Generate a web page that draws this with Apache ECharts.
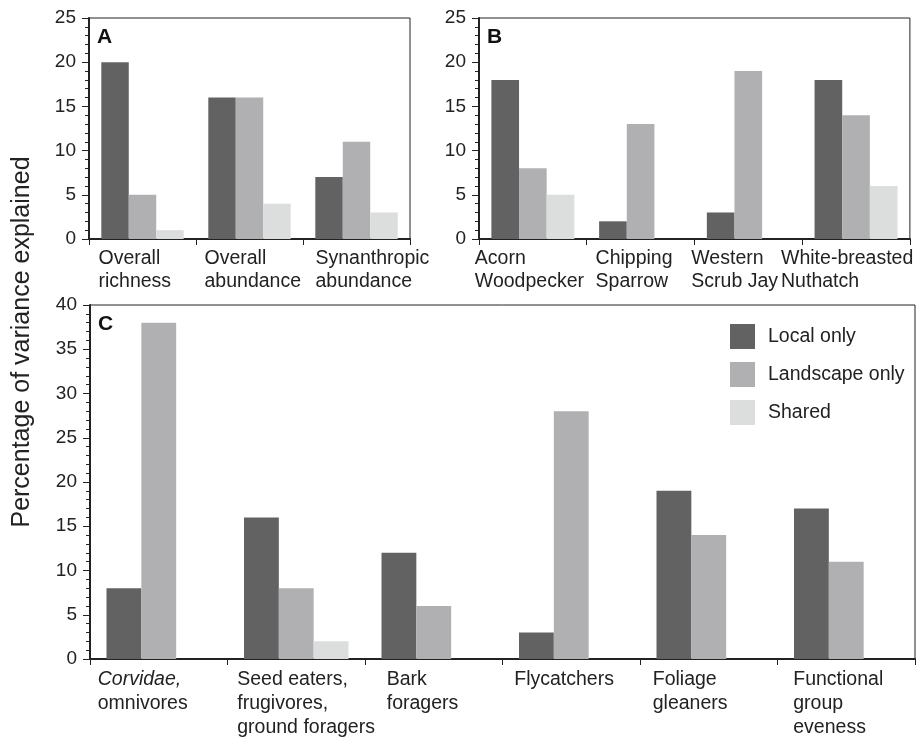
<!DOCTYPE html>
<html>
<head>
<meta charset="utf-8">
<script src="https://cdn.jsdelivr.net/npm/echarts@6/dist/echarts.min.js"></script>
<style>html,body{margin:0;padding:0;background:#fff}#c{width:916px;height:740px}</style>
</head>
<body>
<div id="c"></div>
<script>
// ---- Data ----
const seriesNames = ['Local only', 'Landscape only', 'Shared'];

const catsA = ['Overall\nrichness', 'Overall\nabundance', 'Synanthropic\nabundance'];
const localA = [20, 16, 7];
const landA = [5, 16, 11];
const sharedA = [1, 4, 3];

const catsB = ['Acorn\nWoodpecker', 'Chipping\nSparrow', 'Western\nScrub Jay', 'White-breasted\nNuthatch'];
const localB = [18, 2, 3, 18];
const landB = [8, 13, 19, 14];
const sharedB = [5, 0, 0, 6];

const catsC = ['Corvidae,\nomnivores', 'Seed eaters,\nfrugivores,\nground foragers', 'Bark\nforagers', 'Flycatchers', 'Foliage\ngleaners', 'Functional\ngroup\neveness'];
const localC = [8, 16, 12, 3, 19, 17];
const landC = [38, 8, 6, 28, 14, 11];
const sharedC = [0, 2, 0, 0, 0, 0];

const yTicksAB = [0, 5, 10, 15, 20, 25];
const yTicksC = [0, 5, 10, 15, 20, 25, 30, 35, 40];

// ---- Layout / style ----
const FONT = "'Liberation Sans', Arial, sans-serif";
const LABEL_SIZE = 19.5;
const colors = ['#626262', '#b0b0b2', '#dcdedd'];
const shiftA = [-44, -45, -41];
const shiftB = [-58, -45, -57, -75];
const shiftC = [-61, -59, -47, -57, -56, -53];

function catData(cats, shifts) {
  return cats.map((c, i) => ({ value: c, textStyle: { align: 'left', padding: [0, 0, 0, shifts[i]] } }));
}

const grids = [
  { left: 89, top: 18, width: 321, height: 221 },
  { left: 479, top: 18, width: 433, height: 221 },
  { left: 90, top: 305, width: 825, height: 355 }
];

function xAxis(gi, cats, shifts, lh, margin) {
  return {
    type: 'category', gridIndex: gi, data: catData(cats, shifts),
    axisLine: { show: true, lineStyle: { color: '#222', width: 2 } },
    axisTick: { show: true, length: 6, alignWithLabel: false, interval: 0, lineStyle: { color: '#222', width: 1 } },
    axisLabel: {
      interval: 0, margin: margin, color: '#222', fontSize: LABEL_SIZE, fontFamily: FONT, lineHeight: lh,
      formatter: v => v.replace('Corvidae,', '{it|Corvidae,}'),
      rich: { it: { fontStyle: 'italic', fontSize: LABEL_SIZE, fontFamily: FONT, color: '#222', lineHeight: lh } }
    },
    splitLine: { show: false }
  };
}

function yAxis(gi, ticks) {
  return {
    type: 'value', gridIndex: gi, min: ticks[0], max: ticks[ticks.length - 1], interval: ticks[1] - ticks[0],
    axisLine: { show: true, lineStyle: { color: '#222', width: 2 } },
    axisTick: { show: true, length: 7, lineStyle: { color: '#222', width: 1 } },
    minorTick: { show: true, splitNumber: 5, length: 4, lineStyle: { color: '#222', width: 1 } },
    axisLabel: { color: '#222', fontSize: 19, fontFamily: FONT, margin: 13 },
    splitLine: { show: false }
  };
}

function bars(gi, arrs, gap) {
  return arrs.map((d, i) => ({
    name: seriesNames[i], type: 'bar', xAxisIndex: gi, yAxisIndex: gi, data: d,
    barGap: '0%', barCategoryGap: gap, itemStyle: { color: colors[i] }, animation: false
  }));
}

const chart = echarts.init(document.getElementById('c'), null, { renderer: 'canvas' });
chart.setOption({
  animation: false,
  color: colors,
  textStyle: { fontFamily: FONT },
  grid: grids.map(g => Object.assign({ show: true, borderColor: '#222', borderWidth: 1, backgroundColor: 'transparent' }, g)),
  xAxis: [xAxis(0, catsA, shiftA, 23, 8), xAxis(1, catsB, shiftB, 23, 8), xAxis(2, catsC, shiftC, 24, 9)],
  yAxis: [yAxis(0, yTicksAB), yAxis(1, yTicksAB), yAxis(2, yTicksC)],
  title: [
    { text: 'A', left: 97, top: 27, padding: 0, textStyle: { fontSize: 21, fontWeight: 'bold', color: '#111', fontFamily: FONT } },
    { text: 'B', left: 487, top: 27, padding: 0, textStyle: { fontSize: 21, fontWeight: 'bold', color: '#111', fontFamily: FONT } },
    { text: 'C', left: 98, top: 314, padding: 0, textStyle: { fontSize: 21, fontWeight: 'bold', color: '#111', fontFamily: FONT } }
  ],
  legend: {
    orient: 'vertical', left: 730, top: 324, itemWidth: 25, itemHeight: 25, itemGap: 13, padding: 0,
    icon: 'rect', data: seriesNames,
    textStyle: { fontSize: LABEL_SIZE, color: '#222', fontFamily: FONT, padding: [0, 0, 0, 8] }
  },
  graphic: [{
    type: 'text', x: 22, y: 342, rotation: Math.PI / 2,
    style: { text: 'Percentage of variance explained', fontSize: 25, fontFamily: FONT, fill: '#222', align: 'center', verticalAlign: 'middle' }
  }],
  series: [].concat(
    bars(0, [localA, landA, sharedA], '23%'),
    bars(1, [localB, landB, sharedB], '23%'),
    bars(2, [localC, landC, sharedC], '24%')
  )
});
</script>
</body>
</html>
